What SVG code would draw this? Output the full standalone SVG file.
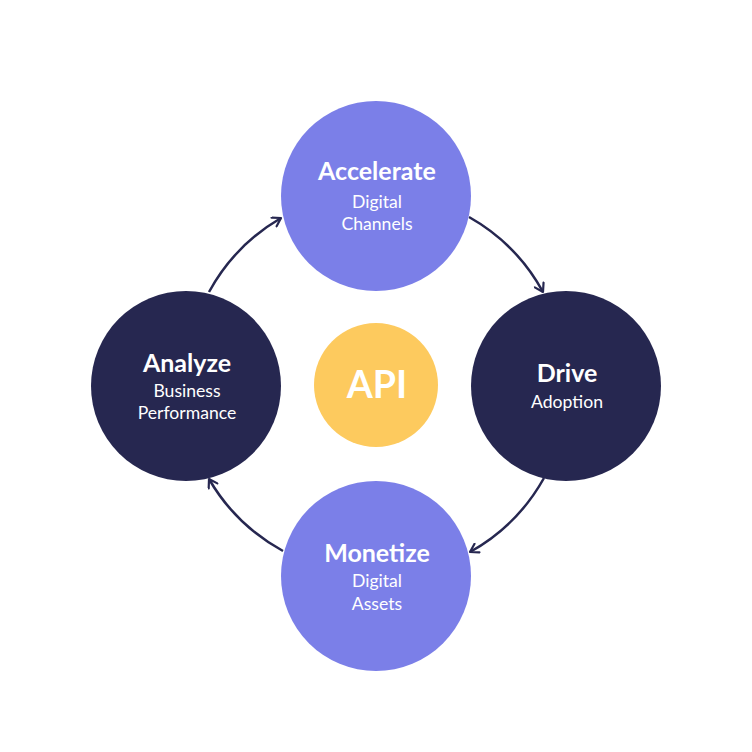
<svg xmlns="http://www.w3.org/2000/svg" width="752" height="752" viewBox="0 0 752 752">
<defs>
<style>
.light{fill:#7b7fe8}
.dark{fill:#262750}
.api{fill:#fdca5e}
.t{font-family:Lato,"Liberation Sans",sans-serif;fill:#ffffff;text-anchor:middle}
.h{font-weight:700;font-size:25px}
.s{font-weight:400;font-size:17.6px}
.conn{fill:none;stroke:#262750;stroke-width:2.5;marker-end:url(#ah)}
</style>
<marker id="ah" viewBox="0 0 12 12" refX="10" refY="6" markerWidth="12" markerHeight="12" markerUnits="userSpaceOnUse" orient="auto">
<path d="M2,1 L10,6 L2,11" fill="none" stroke="#262750" stroke-width="2.2" stroke-linecap="round" stroke-linejoin="round"/>
</marker>
</defs>
<rect width="752" height="752" fill="#ffffff"/>
<g id="connectors">
<path class="conn" d="M209,292 A192,192 0 0 1 281,218"/>
<path class="conn" d="M469,217 A192,192 0 0 1 543,292"/>
<path class="conn" d="M544,478 A192,192 0 0 1 470,552"/>
<path class="conn" d="M283,551 A192,192 0 0 1 209,479"/>
</g>
<g id="accelerate">
<circle class="light" cx="376" cy="196" r="95"/>
<text class="t h" x="377" y="180">Accelerate</text>
<text class="t s" x="377" y="208">Digital</text>
<text class="t s" x="377" y="230">Channels</text>
</g>
<g id="drive">
<circle class="dark" cx="566" cy="386" r="95"/>
<text class="t h" x="567" y="382">Drive</text>
<text class="t s" x="567" y="408">Adoption</text>
</g>
<g id="monetize">
<circle class="light" cx="376" cy="576" r="95"/>
<text class="t h" x="377" y="562">Monetize</text>
<text class="t s" x="377" y="587">Digital</text>
<text class="t s" x="377" y="610">Assets</text>
</g>
<g id="analyze">
<circle class="dark" cx="186" cy="386" r="95"/>
<text class="t h" x="187" y="372">Analyze</text>
<text class="t s" x="187" y="397">Business</text>
<text class="t s" x="187" y="419">Performance</text>
</g>
<g id="api">
<circle class="api" cx="376" cy="385" r="62"/>
<text class="t" x="377" y="398" font-weight="700" font-size="37.5px">API</text>
</g>
</svg>
